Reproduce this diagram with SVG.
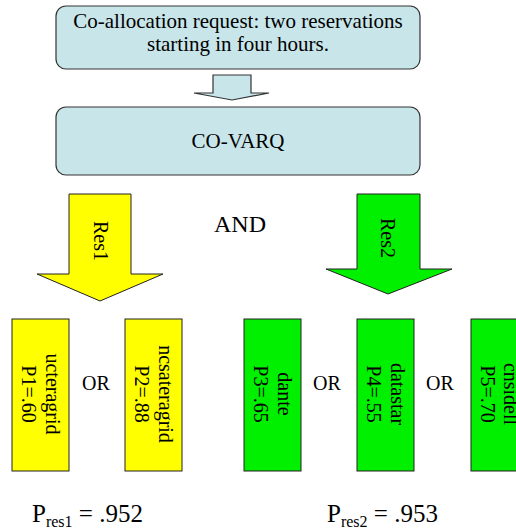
<svg xmlns="http://www.w3.org/2000/svg" width="516" height="530" viewBox="0 0 516 530">
<style>
text{font-family:"Liberation Serif","Times New Roman",serif;fill:#000}
.box{fill:#c8e6ea;stroke:#333;stroke-width:1.2}
.y{fill:#ffff00;stroke:#222;stroke-width:1}
.g{fill:#00f000;stroke:#222;stroke-width:1}
.t21{font-size:21px;text-anchor:middle}
.t20{font-size:20px;text-anchor:middle}
</style>
<rect width="516" height="530" fill="#fff"/>
<g id="request">
<rect class="box" x="56" y="6" width="364" height="63" rx="10"/>
<text class="t21" x="238" y="28">Co-allocation request: two reservations</text>
<text class="t21" x="238" y="51">starting in four hours.</text>
</g>
<g id="connectors">
<polygon class="box" points="213,75 251,75 251,93 269,93 232,100 194,93 213,93"/>
<polygon id="res1" class="y" points="69,194 131,194 131,274 163,274 100,301 37,274 69,274"/>
<polygon id="res2" class="g" points="357,194 420,194 420,269 452,269 388,294 326,269 357,269"/>
<text class="t20" transform="translate(94,241) rotate(90)">Res1</text>
<text class="t20" transform="translate(381,238) rotate(90)">Res2</text>
</g>
<g id="covarq">
<rect class="box" x="56" y="107" width="364" height="68" rx="10"/>
<text class="t21" x="238" y="148">CO-VARQ</text>
</g>
<text x="240" y="232" font-size="24" text-anchor="middle">AND</text>
<g id="ucteragrid">
<rect class="y" x="12" y="319" width="57" height="152"/>
<text class="t20" transform="translate(46,394) rotate(90)">ucteragrid</text>
<text class="t20" transform="translate(22,394) rotate(90)">P1=.60</text>
</g>
<g id="ncsateragrid">
<rect class="y" x="125" y="319" width="57" height="152"/>
<text class="t20" transform="translate(159,394) rotate(90)">ncsateragrid</text>
<text class="t20" transform="translate(134.5,394) rotate(90)">P2=.88</text>
</g>
<g id="dante">
<rect class="g" x="244" y="319" width="57" height="152"/>
<text class="t20" transform="translate(278,394) rotate(90)">dante</text>
<text class="t20" transform="translate(253.5,394) rotate(90)">P3=.65</text>
</g>
<g id="datastar">
<rect class="g" x="357" y="319" width="57" height="152"/>
<text class="t20" transform="translate(391,394) rotate(90)">datastar</text>
<text class="t20" transform="translate(366.5,394) rotate(90)">P4=.55</text>
</g>
<g id="cnsidell">
<rect class="g" x="471" y="319" width="57" height="152"/>
<text class="t20" transform="translate(504,394) rotate(90)">cnsidell</text>
<text class="t20" transform="translate(480.5,394) rotate(90)">P5=.70</text>
</g>
<text class="t20" x="96" y="390">OR</text>
<text class="t20" x="327" y="390">OR</text>
<text class="t20" x="440" y="390">OR</text>
<text x="32" y="522" font-size="25">P<tspan font-size="16" dy="5">res1</tspan><tspan dy="-5"> = .952</tspan></text>
<text x="327" y="522" font-size="25">P<tspan font-size="16" dy="5">res2</tspan><tspan dy="-5"> = .953</tspan></text>
</svg>
